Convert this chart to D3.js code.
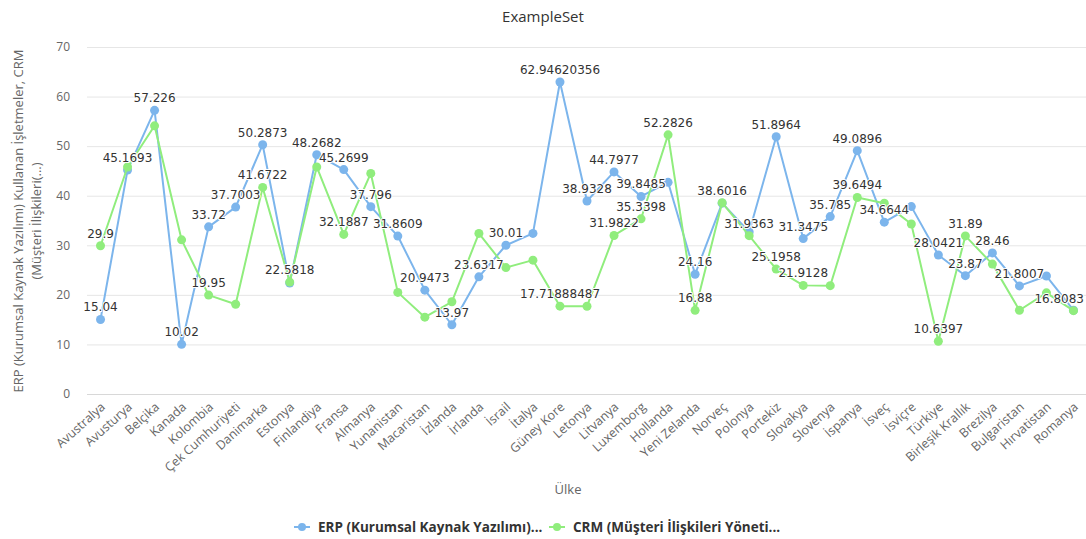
<!DOCTYPE html>
<html><head><meta charset="utf-8">
<script src="https://cdn.jsdelivr.net/npm/d3@7/dist/d3.min.js"></script>
<style>body{margin:0;background:#fff}svg{display:block}</style>
</head><body><svg id="c" width="1086" height="539"></svg>
<script>
const categories = ["Avustralya","Avusturya","Belçika","Kanada","Kolombia","Çek Cumhuriyeti","Danimarka","Estonya","Finlandiya","Fransa","Almanya","Yunanistan","Macaristan","İzlanda","İrlanda","İsrail","İtalya","Güney Kore","Letonya","Litvanya","Luxemborg","Hollanda","Yeni Zelanda","Norveç","Polonya","Portekiz","Slovakya","Slovenya","İspanya","İsveç","İsviçre","Türkiye","Birleşik Krallık","Brezilya","Bulgaristan","Hırvatistan","Romanya"];
const erpValues = [15.04,45.1693,57.226,10.02,33.72,37.7003,50.2873,22.4,48.2682,45.2699,37.796,31.8609,20.9473,13.97,23.6317,30.01,32.4,62.94620356,38.9328,44.7977,39.8485,42.7,24.16,38.5,32.7,51.8964,31.3475,35.785,49.0896,34.6644,37.8,28.0421,23.87,28.46,21.8007,23.8,16.9];
const crmValues = [29.9,45.8,54.1,31.1,19.95,18.1,41.6722,22.5818,45.8,32.1887,44.5,20.5,15.5,18.6,32.4,25.5,27.0,17.71888487,17.7,31.9822,35.3398,52.2826,16.88,38.6016,31.9363,25.1958,21.9128,21.85,39.6494,38.5,34.3,10.6397,31.89,26.2,16.9,20.4,16.8083];
const erpLabelled = [0,1,2,3,4,5,6,8,9,10,11,12,13,14,15,17,18,19,20,22,25,26,27,28,29,31,32,33,34];
const crmLabelled = [0,4,6,7,9,17,19,20,21,22,23,24,25,26,28,31,32,36];
const yTicks = [0,10,20,30,40,50,60,70];
const seriesNames = ["ERP (Kurumsal Kaynak Yazılımı)...","CRM (Müşteri İlişkileri Yöneti..."];
const colors = ["#7cb5ec","#90ed7d"];

const svg = d3.select("#c");
const L = 87, R = 1087, T = 47, B = 394;
const x = d3.scalePoint().domain(categories).range([L, R]).padding(0.5);
const y = d3.scaleLinear().domain([0,70]).range([B, T]);
const font = "'Open Sans', sans-serif";

svg.append("text").attr("x",543).attr("y",22).attr("text-anchor","middle")
  .attr("font-family",font).attr("font-size",15).attr("fill","#333").text("ExampleSet");

// grid
svg.append("g").selectAll("line").data(yTicks).join("line")
  .attr("x1",L).attr("x2",R).attr("y1",d=>y(d)+0.5).attr("y2",d=>y(d)+0.5)
  .attr("stroke",d=>d===0?"#d8d8d8":"#e6e6e6").attr("stroke-width",1);

// y axis labels
const ya = d3.axisLeft(y).tickValues(yTicks).tickSize(0).tickPadding(0);
const yg = svg.append("g").attr("transform",`translate(${L-17},0)`).call(ya);
yg.select(".domain").remove();
yg.selectAll("text").attr("font-family",font).attr("font-size",12).attr("fill","#666");

// x axis labels
const xa = d3.axisBottom(x).tickSize(0).tickPadding(0);
const xg = svg.append("g").attr("transform",`translate(0,${B})`).call(xa);
xg.select(".domain").remove();
xg.selectAll("text").attr("font-family",font).attr("font-size",12.5).attr("fill","#666")
  .attr("text-anchor","end").attr("dy",null).attr("y",0)
  .attr("transform","translate(5,14) rotate(-42)");

// axis titles
const yt = svg.append("text").attr("transform","translate(23,221) rotate(-90)")
  .attr("text-anchor","middle").attr("font-family",font).attr("font-size",13).attr("fill","#666");
yt.append("tspan").attr("x",0).attr("y",0).text("ERP (Kurumsal Kaynak Yazılımı) Kullanan İşletmeler, CRM");
yt.append("tspan").attr("x",0).attr("y",18).text("(Müşteri İlişkileri(...)");
svg.append("text").attr("x",568).attr("y",494).attr("text-anchor","middle")
  .attr("font-family",font).attr("font-size",13).attr("fill","#666").text("Ülke");

const series = [erpValues, crmValues];
const labelled = [erpLabelled, crmLabelled];
const line = d3.line().x((d,i)=>x(categories[i])).y(d=>y(d));
series.forEach((vals, s) => {
  const g = svg.append("g");
  g.append("path").datum(vals).attr("d",line).attr("fill","none")
    .attr("stroke",colors[s]).attr("stroke-width",2).attr("stroke-linejoin","round");
  g.selectAll("circle").data(vals).join("circle")
    .attr("cx",(d,i)=>x(categories[i])).attr("cy",d=>y(d)).attr("r",4.5).attr("fill",colors[s]);
});
const lg = svg.append("g");
series.forEach((vals, s) => {
  lg.selectAll(null).data(labelled[s]).join("text")
    .attr("x",i=>x(categories[i])).attr("y",i=>y(vals[i])-8)
    .attr("text-anchor","middle").attr("font-family","'DejaVu Sans', sans-serif").attr("font-size",12)
    .attr("fill","#333").attr("stroke","#fff").attr("stroke-width",2).attr("paint-order","stroke")
    .attr("stroke-linejoin","round")
    .text(i=>String(vals[i]))
    .each(function(){
      const bb = this.getBBox();
      const over = bb.x + bb.width - 1084;
      if (over > 0) d3.select(this).attr("x", +d3.select(this).attr("x") - over);
    });
});

// legend
const legX = [302, 557];
seriesNames.forEach((n, s) => {
  const g = svg.append("g").attr("transform",`translate(${legX[s]},527)`);
  g.append("line").attr("x1",-8).attr("x2",8).attr("y1",0).attr("y2",0).attr("stroke",colors[s]).attr("stroke-width",2);
  g.append("circle").attr("r",4).attr("fill",colors[s]);
  g.append("text").attr("x",16).attr("y",5).attr("font-family",font).attr("font-weight","bold")
    .attr("font-size",13.5).attr("fill","#333").text(n);
});
</script></body></html>
